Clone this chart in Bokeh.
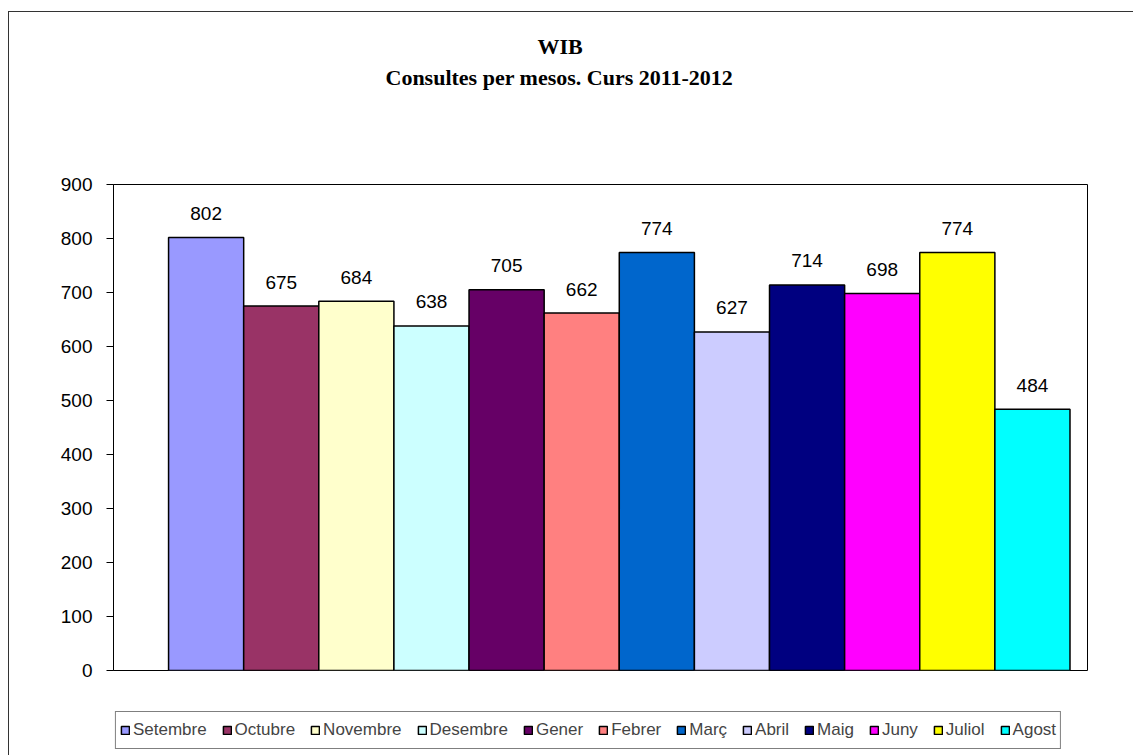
from bokeh.plotting import figure
from bokeh.models import ColumnDataSource, Range1d, FixedTicker, Title
from bokeh.layouts import column
from bokeh.embed import file_html
from bokeh.resources import INLINE
from bokeh.core.properties import value

months = ["Setembre", "Octubre", "Novembre", "Desembre", "Gener", "Febrer",
          "Març", "Abril", "Maig", "Juny", "Juliol", "Agost"]
consultes = [802, 675, 684, 638, 705, 662, 774, 627, 714, 698, 774, 484]
colors = ["#9999FF", "#993366", "#FFFFCC", "#CCFFFF", "#660066", "#FF8080",
          "#0066CC", "#CCCCFF", "#000080", "#FF00FF", "#FFFF00", "#00FFFF"]
y_ticks = [0, 100, 200, 300, 400, 500, 600, 700, 800, 900]
title_main = "WIB"
title_sub = "Consultes per mesos. Curs 2011-2012"

src = ColumnDataSource(dict(x=list(range(len(months))), top=consultes,
                            month=months, color=colors,
                            label=[str(v) for v in consultes]))

def mk_title(text, offset, standoff):
    return Title(text=text, align="left", offset=offset, standoff=standoff,
                 text_font="Liberation Serif", text_font_style="bold",
                 text_font_size="22px", text_color="black")

p = figure(frame_width=974, frame_height=486,
           min_border_left=104, min_border_right=46, min_border_top=172,
           min_border_bottom=41,
           x_range=Range1d(-1.233, 11.733),
           y_range=Range1d(0, 900),
           title=mk_title(title_main, 424, 4),
           output_backend="svg", toolbar_location=None)

# spacer (closest to the frame), then the subtitle
p.add_layout(mk_title(" ", 0, 66), "above")
p.add_layout(mk_title(title_sub, 272, 4), "above")

p.vbar(x="x", top="top", width=1.0, fill_color="color", line_color="black",
       line_width=1.5, source=src)

p.text(x="x", y="top", text="label", source=src, text_align="center",
       text_baseline="middle", y_offset=-24, text_font=value("Liberation Sans"),
       text_font_size="19px", text_color="black")

p.xaxis.visible = False
p.xgrid.visible = False
p.ygrid.visible = False
p.outline_line_color = "black"
p.outline_line_width = 1

ya = p.yaxis[0]
ya.ticker = FixedTicker(ticks=y_ticks)
ya.major_tick_out = 7
ya.major_tick_in = 0
ya.minor_tick_line_color = None
ya.axis_line_color = "black"
ya.major_tick_line_color = "black"
ya.major_label_text_font = "Liberation Sans"
ya.major_label_text_font_size = "19px"
ya.major_label_text_color = "black"
ya.major_label_standoff = 14

# legend strip: its own small figure whose bars fall outside its ranges
lf = figure(frame_width=950, frame_height=38,
            min_border_left=91, min_border_right=83, min_border_top=0,
            min_border_bottom=6,
            x_range=Range1d(-1, 12), y_range=Range1d(-10, -9),
            output_backend="svg", toolbar_location=None)
lf.vbar(x="x", top="top", width=1.0, fill_color="color", line_color="black",
        line_width=1.5, source=src, legend_field="month")
lf.axis.visible = False
lf.grid.visible = False
lf.outline_line_color = None

lg = lf.legend[0]
lg.orientation = "horizontal"
lg.location = "center"
lg.border_line_color = "black"
lg.border_line_width = 1
lg.label_text_font = "Liberation Sans"
lg.label_text_font_size = "17px"
lg.glyph_width = 10
lg.glyph_height = 10
lg.label_standoff = 3
lg.spacing = 15
lg.padding = 4
lg.margin = 0
lg.label_height = 28
lg.background_fill_alpha = 1

layout = column(p, lf, spacing=0,
                styles={"border-left": "1px solid #333", "border-top": "1px solid #333",
                        "margin-top": "11px", "margin-left": "8px"})

open("out.html", "w").write(file_html(layout, INLINE))
